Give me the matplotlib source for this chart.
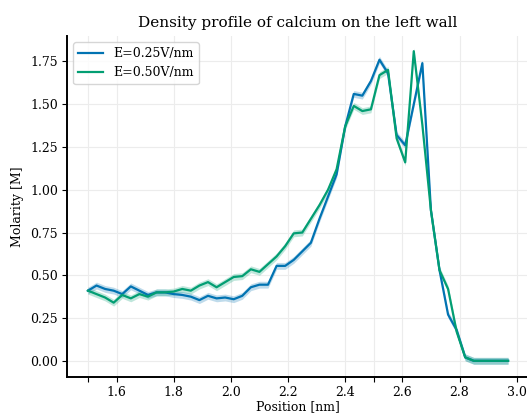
import numpy as np
import matplotlib
matplotlib.use("Agg")
import matplotlib.pyplot as plt
from matplotlib.ticker import MultipleLocator

# positions of the bins (nm)
position = np.round(np.arange(50) * 0.03 + 1.50, 2)

# calcium molarity, E = 0.25 V/nm
molar_025 = [0.41, 0.44, 0.42, 0.41, 0.39, 0.435, 0.41, 0.385, 0.40, 0.40,
             0.39, 0.385, 0.375, 0.355, 0.38, 0.365, 0.37, 0.36, 0.38, 0.43,
             0.445, 0.445, 0.555, 0.555, 0.59, 0.64, 0.69, 0.83, 0.96, 1.09,
             1.37, 1.56, 1.55, 1.635, 1.76, 1.68, 1.32, 1.26, 1.50, 1.74,
             0.88, 0.53, 0.27, 0.18, 0.02, 0.0, 0.0, 0.0, 0.0, 0.0]

# calcium molarity, E = 0.50 V/nm
molar_050 = [0.41, 0.39, 0.37, 0.34, 0.385, 0.365, 0.39, 0.375, 0.40, 0.40,
             0.405, 0.42, 0.41, 0.44, 0.46, 0.43, 0.46, 0.49, 0.495, 0.535,
             0.52, 0.565, 0.61, 0.67, 0.745, 0.75, 0.83, 0.91, 1.00, 1.12,
             1.37, 1.49, 1.46, 1.47, 1.67, 1.70, 1.30, 1.16, 1.81, 1.38,
             0.88, 0.53, 0.42, 0.17, 0.02, 0.0, 0.0, 0.0, 0.0, 0.0]

labels = ['E=0.25V/nm', 'E=0.50V/nm']
colors = ['#0173B2', '#029E73']
band = 0.02  # half width of the shaded interval

plt.rcParams['font.family'] = ['DejaVu Serif']
plt.rcParams['font.size'] = 9

fig = plt.figure(figsize=(5.27, 4.16), dpi=100)
ax = fig.add_axes([0.127, 0.094, 0.877, 0.820])

for y, lab, col in zip([molar_025, molar_050], labels, colors):
    y = np.array(y)
    ax.fill_between(position, y - band, y + band, color=col, alpha=0.25, lw=0)
    ax.plot(position, y, color=col, lw=1.6, label=lab)

ax.set_xlim(1.4265, 3.0435)
ax.set_ylim(-0.094, 1.90)
ax.xaxis.set_major_locator(MultipleLocator(0.2))
ax.xaxis.set_minor_locator(MultipleLocator(0.5))
ax.yaxis.set_major_locator(MultipleLocator(0.25))
ax.yaxis.set_major_formatter(matplotlib.ticker.FormatStrFormatter('%.2f'))

ax.grid(True, which='both', color='#ececec', lw=0.8)
ax.set_axisbelow(True)
for s in ['top', 'right']:
    ax.spines[s].set_visible(False)
for s in ['left', 'bottom']:
    ax.spines[s].set_linewidth(1.4)
ax.tick_params(which='both', direction='out', length=3.5, width=0.8, pad=3)

ax.set_title('Density profile of calcium on the left wall', fontsize=11)
ax.set_xlabel('Position [nm]', labelpad=1)
ax.set_ylabel('Molarity [M]')
ax.legend(loc='upper left', fontsize=9, edgecolor='#cccccc')

fig.savefig('out.png', dpi=100)
